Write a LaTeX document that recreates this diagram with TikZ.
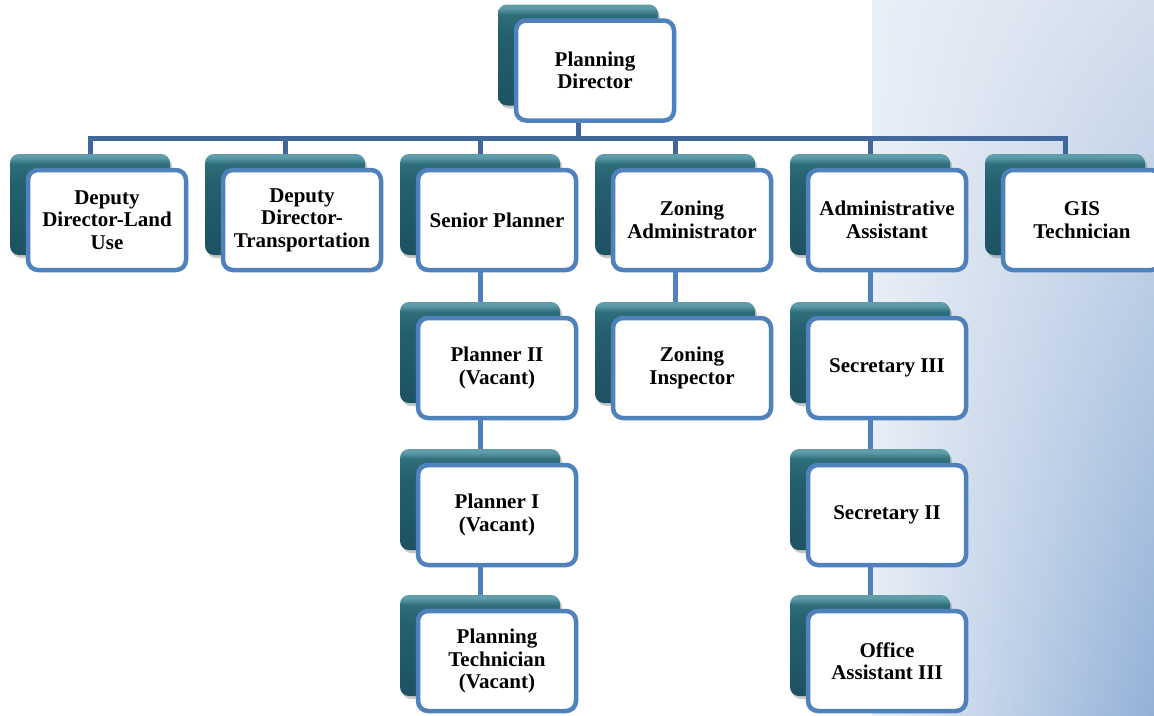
\documentclass[tikz,border=0pt]{standalone}
\usepackage{fontspec}
\setmainfont{Liberation Serif}
\usetikzlibrary{shadows,shadings}

\definecolor{boxblue}{HTML}{4F81BD}
\definecolor{busblue}{HTML}{42689B}
\definecolor{tealD}{HTML}{1D5262}
\definecolor{tealM}{HTML}{245F6E}
\definecolor{tealM2}{HTML}{2E6E7B}
\definecolor{tealL}{HTML}{5E9DA9}
\definecolor{bgUL}{HTML}{E9EFF7}
\definecolor{bgUR}{HTML}{D3DEEC}
\definecolor{bgLL}{HTML}{E7EDF5}
\definecolor{bgLR}{HTML}{93B1D8}

% glossy vertical shading for the dark card behind each box
\pgfdeclareverticalshading{tealbox}{100bp}{color(0bp)=(tealD); color(25bp)=(tealD);
  color(60bp)=(tealM); color(70bp)=(tealM2); color(73.5bp)=(tealL); color(75bp)=(tealL); color(100bp)=(tealL)}

\pgfdeclarelayer{background}
\pgfdeclarelayer{connectors}
\pgfsetlayers{background,connectors,main}

\tikzset{
  backbox/.style={rectangle, rounded corners=9pt, minimum width=160pt, minimum height=101pt,
    inner sep=0pt, shade, shading=tealbox,
    drop shadow={shadow xshift=2pt, shadow yshift=-3pt, opacity=.3, fill=black!70}},
  frontbox/.style={rectangle, rounded corners=10pt, draw=boxblue, line width=4.5pt, fill=white,
    minimum width=158pt, minimum height=100pt, inner sep=2pt, align=center,
    font=\bfseries\fontsize{21}{22.5}\selectfont},
  busline/.style={draw=busblue, line width=5pt},
  chainline/.style={draw=boxblue, line width=5pt},
}

% one organisational unit: dark card behind, white framed box in front
\newcommand\orgunit[4]{%
  \node[backbox] (#1-b) at ({#2-17},{#3-15.5}) {};
  \node[frontbox] (#1) at (#2,#3) {#4};}

\begin{document}
\begin{tikzpicture}[x=1pt,y=-1pt]
\useasboundingbox (0,0) rectangle (1154,715);

\begin{pgfonlayer}{background}
  \fill[white] (0,0) rectangle (1154,715);
  \shade[upper left=bgUL, upper right=bgUR, lower left=bgLL, lower right=bgLR]
    (872,0) rectangle (1154,715);
\end{pgfonlayer}

% top level
\orgunit{pd}{595}{70.5}{Planning\\Director}

% first row
\orgunit{dl}{107}{220}{Deputy\\Director-Land\\Use}
\orgunit{dt}{302}{220}{Deputy\\Director-\\Transportation}
\orgunit{sp}{497}{220}{Senior Planner}
\orgunit{za}{692}{220}{Zoning\\Administrator}
\orgunit{aa}{887}{220}{Administrative\\Assistant}
\orgunit{gis}{1082}{220}{GIS\\Technician}

% planning column
\orgunit{p2}{497}{368}{Planner II\\(Vacant)}
\orgunit{p1}{497}{515}{Planner I\\(Vacant)}
\orgunit{pt}{497}{661}{Planning\\Technician\\(Vacant)}

% zoning column
\orgunit{zi}{692}{368}{Zoning\\Inspector}

% administrative column
\orgunit{s3}{887}{368}{Secretary III}
\orgunit{s2}{887}{515}{Secretary II}
\orgunit{oa}{887}{661}{Office\\Assistant III}

\coordinate (bus) at (0,138);

\begin{pgfonlayer}{connectors}
  \draw[busline] (pd-b.south) -- (bus -| pd-b.south);
  \draw[busline, line join=miter] (dl-b.north) |- (bus -| gis-b.north) -- (gis-b.north);
  \foreach \u in {dt,sp,za,aa}
    \draw[busline] (\u-b.north) -- (bus -| \u-b.north);
  \draw[chainline] (sp-b.south) -- (p2-b.north);
  \draw[chainline] (p2-b.south) -- (p1-b.north);
  \draw[chainline] (p1-b.south) -- (pt-b.north);
  \draw[chainline] (za-b.south) -- (zi-b.north);
  \draw[chainline] (aa-b.south) -- (s3-b.north);
  \draw[chainline] (s3-b.south) -- (s2-b.north);
  \draw[chainline] (s2-b.south) -- (oa-b.north);
\end{pgfonlayer}
\end{tikzpicture}
\end{document}
